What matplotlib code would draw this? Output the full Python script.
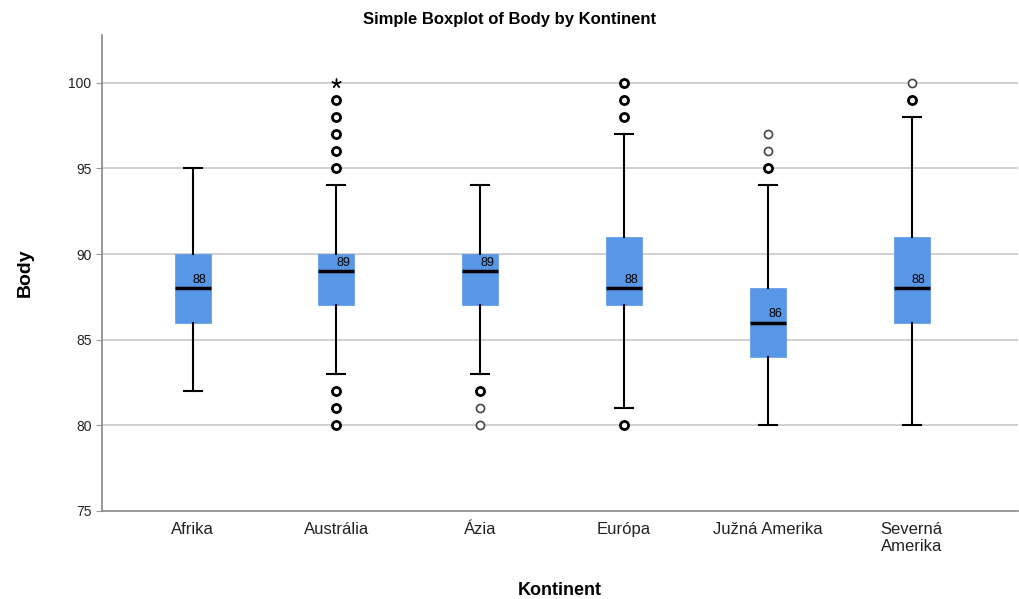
import matplotlib
matplotlib.use("Agg")
import matplotlib.pyplot as plt

plt.rcParams['font.family'] = ['Liberation Sans', 'DejaVu Sans']

categories = ["Afrika", "Austrália", "Ázia", "Európa", "Južná Amerika", "Severná\nAmerika"]
whisker_low = [82, 83, 83, 81, 80, 80]
q1 = [86, 87, 87, 87, 84, 86]
medians = [88, 89, 89, 88, 86, 88]
q3 = [90, 90, 90, 91, 88, 91]
whisker_high = [95, 94, 94, 97, 94, 98]
# outliers: (category index, value) — multiple overlapping cases drawn bold
outliers_multi = [(1, 95), (1, 96), (1, 97), (1, 98), (1, 99), (1, 82), (1, 81), (1, 80),
                  (2, 82), (3, 98), (3, 99), (3, 100), (3, 80), (4, 95), (5, 99)]
outliers_single = [(2, 81), (2, 80), (4, 96), (4, 97), (5, 100)]
extremes = [(1, 100)]

fig = plt.figure(figsize=(10.2, 5.99), dpi=100)
ax = fig.add_axes([0.1, 0.147, 0.898, 0.795])

positions = list(range(1, len(categories) + 1))
stats = []
for i in range(len(categories)):
    stats.append(dict(med=medians[i], q1=q1[i], q3=q3[i],
                      whislo=whisker_low[i], whishi=whisker_high[i], fliers=[]))

ax.bxp(stats, positions=positions, widths=0.25, capwidths=0.125, patch_artist=True,
       showfliers=False,
       boxprops=dict(facecolor="#5896E6", edgecolor="#5896E6", linewidth=0.5),
       medianprops=dict(color="black", linewidth=2.5),
       whiskerprops=dict(color="black", linewidth=1.5),
       capprops=dict(color="black", linewidth=1.5), zorder=3)

for i in range(len(categories)):
    ax.text(positions[i] + 0.05, medians[i] + 0.12, f"{medians[i]}", fontsize=9,
            ha="center", va="bottom", zorder=4)

ax.scatter([positions[i] for i, v in outliers_multi], [v for i, v in outliers_multi],
           s=34, facecolors="white", edgecolors="black", linewidths=2.0, zorder=4)
ax.scatter([positions[i] for i, v in outliers_single], [v for i, v in outliers_single],
           s=34, facecolors="white", edgecolors="#444444", linewidths=1.2, zorder=4)
ax.scatter([positions[i] for i, v in extremes], [v for i, v in extremes],
           s=40, marker=(5, 2, 0), color="black", linewidths=1.0, zorder=4)

ax.set_xlim(0.37, 6.74)
ax.set_ylim(75, 102.8)
ax.set_yticks([75, 80, 85, 90, 95, 100])
ax.set_xticks(positions)
ax.set_xticklabels(categories, fontsize=12, color="#222222")
ax.tick_params(axis="x", length=0, pad=8)
ax.tick_params(axis="y", labelsize=10, length=4, color="#999999", labelcolor="#222222")
for v in [80, 85, 90, 95, 100]:
    ax.axhline(v, color="#C8C8C8", linewidth=1.2, zorder=1)

for s in ["top", "right"]:
    ax.spines[s].set_visible(False)
for s in ["left", "bottom"]:
    ax.spines[s].set_color("#888888")
    ax.spines[s].set_linewidth(1.2)

ax.set_ylabel("Body", fontsize=14, fontweight="bold", labelpad=25)
ax.set_xlabel("Kontinent", fontsize=13, fontweight="bold", labelpad=20)
fig.text(0.5, 0.968, "Simple Boxplot of Body by Kontinent", ha="center", va="center",
         fontsize=12, fontweight="bold")

fig.savefig("out.png", dpi=100)
